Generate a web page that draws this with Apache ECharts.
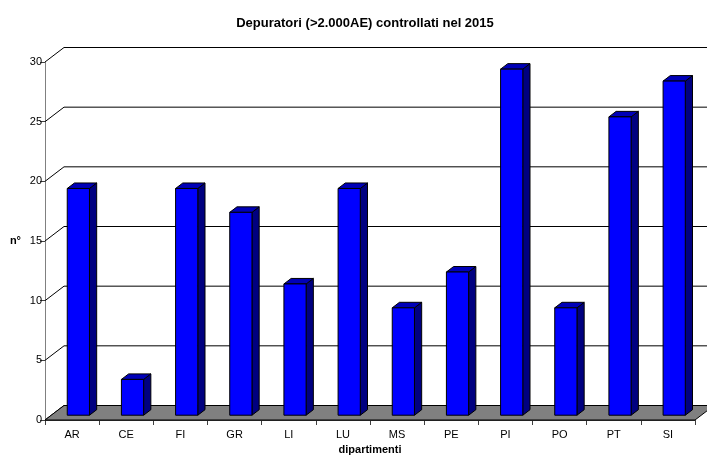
<!DOCTYPE html>
<html>
<head>
<meta charset="utf-8">
<script src="https://cdn.jsdelivr.net/npm/echarts@6/dist/echarts.min.js"></script>
<style>
  html, body { margin: 0; padding: 0; background: #fff; }
  #chart { width: 707px; height: 455px; }
</style>
</head>
<body>
<div id="chart"></div>
<script>
// Departments and number of treatment plants checked
const categories = ['AR', 'CE', 'FI', 'GR', 'LI', 'LU', 'MS', 'PE', 'PI', 'PO', 'PT', 'SI'];
const plantsChecked = [19, 3, 19, 17, 11, 19, 9, 12, 29, 9, 25, 28];
const yTicks = [0, 5, 10, 15, 20, 25, 30];

// Pseudo-3D depth of the plot box (pixels) and bar placement inside it
const DEPTH_X = 19;
const DEPTH_Y = -14.5;
const BAR_FRONT = 0.33;   // fraction of depth where the bar front face sits
const BAR_BACK = 0.71;    // fraction of depth where the bar back face sits
const BAR_RATIO = 0.41;   // bar width as a share of the category band

const FONT = 'Arial, "Liberation Sans", sans-serif';

// Back wall gridlines plus the diagonal lines on the left wall
function renderWall(params, api) {
  const cs = params.coordSys;
  const y = api.coord([0, api.value(1)])[1];
  const children = [{
    type: 'line',
    shape: { x1: cs.x, y1: y, x2: cs.x + DEPTH_X, y2: y + DEPTH_Y },
    style: { stroke: '#000', lineWidth: 1 }
  }];
  if (api.value(1) !== 0) {
    children.push({
      type: 'line',
      shape: { x1: cs.x + DEPTH_X, y1: y + DEPTH_Y, x2: cs.x + cs.width + DEPTH_X, y2: y + DEPTH_Y },
      style: { stroke: '#000', lineWidth: 1 }
    });
  }
  return { type: 'group', children: children };
}

// Grey floor of the plot box
function renderFloor(params, api) {
  const cs = params.coordSys;
  const y0 = api.coord([0, 0])[1];
  return {
    type: 'polygon',
    shape: {
      points: [
        [cs.x, y0],
        [cs.x + cs.width, y0],
        [cs.x + cs.width + DEPTH_X, y0 + DEPTH_Y],
        [cs.x + DEPTH_X, y0 + DEPTH_Y]
      ]
    },
    style: { fill: '#808080', stroke: '#000', lineWidth: 1 }
  };
}

// Box-shaped bar: front face, right side and top
function renderBar(params, api) {
  const idx = api.value(0);
  const base = api.coord([idx, 0]);
  const top = api.coord([idx, api.value(1)]);
  const band = api.size([1, 0])[0];
  const w = band * BAR_RATIO;
  const fx = DEPTH_X * BAR_FRONT, fy = DEPTH_Y * BAR_FRONT;
  const bx = DEPTH_X * BAR_BACK, by = DEPTH_Y * BAR_BACK;
  const left = base[0] - w / 2 + fx;
  const right = left + w;
  const yb = base[1] + fy;
  const yt = top[1] + fy;
  const dx = bx - fx, dy = by - fy;
  const edge = { stroke: '#000', lineWidth: 1, lineJoin: 'round' };
  return {
    type: 'group',
    children: [
      {
        type: 'polygon',
        shape: { points: [[right, yt], [right + dx, yt + dy], [right + dx, yb + dy], [right, yb]] },
        style: Object.assign({ fill: '#000080' }, edge)
      },
      {
        type: 'polygon',
        shape: { points: [[left, yt], [right, yt], [right + dx, yt + dy], [left + dx, yt + dy]] },
        style: Object.assign({ fill: '#0000B8' }, edge)
      },
      {
        type: 'rect',
        shape: { x: left, y: yt, width: w, height: yb - yt },
        style: Object.assign({ fill: '#0000FF' }, edge)
      }
    ]
  };
}

const chart = echarts.init(document.getElementById('chart'), null, { renderer: 'canvas' });
chart.setOption({
  animation: false,
  backgroundColor: '#fff',
  title: {
    text: 'Depuratori (>2.000AE) controllati nel 2015',
    left: 360,
    textAlign: 'center',
    top: 12,
    textStyle: { fontFamily: FONT, fontSize: 13, fontWeight: 'bold', color: '#000' }
  },
  grid: { left: 45, right: 12, top: 62, bottom: 35, containLabel: false, outerBoundsMode: 'none' },
  xAxis: {
    type: 'category',
    data: categories,
    boundaryGap: true,
    name: 'dipartimenti',
    nameLocation: 'middle',
    nameGap: 23,
    nameTextStyle: { fontFamily: FONT, fontSize: 11, fontWeight: 'bold', color: '#000' },
    axisLine: { show: true, lineStyle: { color: '#404040', width: 1 } },
    axisTick: { show: true, length: 5, alignWithLabel: false, lineStyle: { color: '#404040' } },
    axisLabel: { margin: 9, fontFamily: FONT, fontSize: 11, color: '#000' },
    splitLine: { show: false }
  },
  yAxis: {
    type: 'value',
    min: 0,
    max: 30,
    interval: 5,
    name: 'n°',
    nameLocation: 'middle',
    nameRotate: 0,
    nameGap: 24,
    nameTextStyle: { fontFamily: FONT, fontSize: 11, fontWeight: 'bold', color: '#000' },
    axisLine: { show: true, lineStyle: { color: '#808080', width: 1 } },
    axisTick: { show: true, length: 5, lineStyle: { color: '#404040' } },
    axisLabel: { margin: 3, fontFamily: FONT, fontSize: 11, color: '#000' },
    splitLine: { show: false }
  },
  series: [
    {
      type: 'custom',
      name: 'wall',
      renderItem: renderWall,
      data: yTicks.map(v => [0, v]),
      clip: false,
      silent: true,
      z: 1
    },
    {
      type: 'custom',
      name: 'floor',
      renderItem: renderFloor,
      data: [[0, 0]],
      clip: false,
      silent: true,
      z: 2
    },
    {
      type: 'custom',
      name: 'Depuratori controllati',
      renderItem: renderBar,
      data: plantsChecked.map((v, i) => [i, v]),
      clip: false,
      z: 3
    }
  ]
});
</script>
</body>
</html>
